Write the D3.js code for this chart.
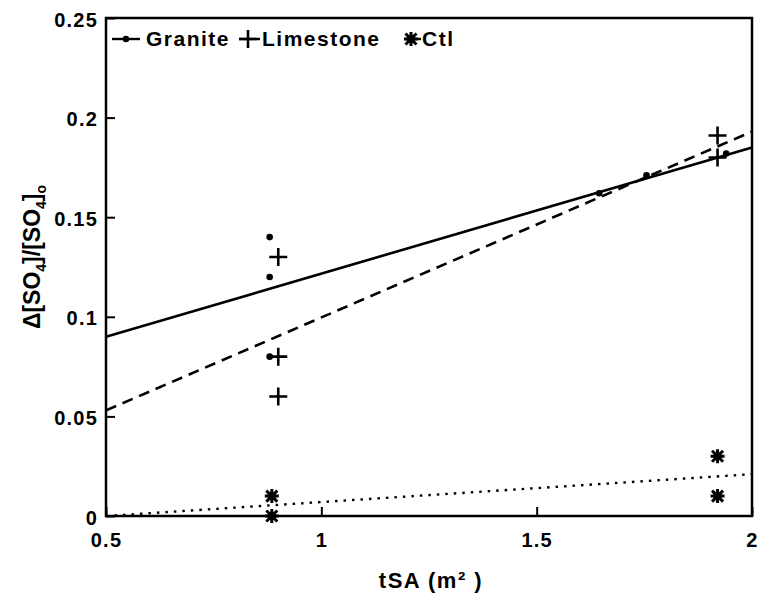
<!DOCTYPE html>
<html><head><meta charset="utf-8">
<script src="https://cdn.jsdelivr.net/npm/d3@7"></script>
<style>body{margin:0;background:#fff}svg{display:block}text{font-family:"Liberation Sans",Arial,sans-serif;fill:#000}</style>
</head><body>
<svg id="c" width="759" height="607"></svg>
<script>
const xTicks = [0.5, 1, 1.5, 2];
const xTickLabels = ["0.5", "1", "1.5", "2"];
const yTicks = [0, 0.05, 0.1, 0.15, 0.2, 0.25];
const yTickLabels = ["0", "0.05", "0.1", "0.15", "0.2", "0.25"];

const graniteX = [0.88, 0.88, 0.88, 1.645, 1.755, 1.94];
const graniteY = [0.14, 0.12, 0.08, 0.162, 0.171, 0.182];
const limestoneX = [0.9, 0.9, 0.9, 1.92, 1.92];
const limestoneY = [0.13, 0.08, 0.06, 0.191, 0.18];
const ctlX = [0.885, 0.885, 1.92, 1.92];
const ctlY = [0.01, 0.0, 0.03, 0.01];

const graniteFitX = [0.5, 2]; const graniteFitY = [0.09, 0.185];
const limestoneFitX = [0.5, 2]; const limestoneFitY = [0.053, 0.193];
const ctlFitX = [0.5, 2]; const ctlFitY = [0.0, 0.021];

const svg = d3.select("#c");
const L = 106, R = 752, T = 18, B = 516;
const x = d3.scaleLinear().domain([0.5, 2]).range([L, R]);
const y = d3.scaleLinear().domain([0, 0.25]).range([B, T]);

const line = d3.line().x(d => x(d[0])).y(d => y(d[1]));
function fit(xs, ys, dash, w) {
  svg.append("path").datum(xs.map((v, i) => [v, ys[i]])).attr("d", line)
    .attr("fill", "none").attr("stroke", "#000").attr("stroke-width", w)
    .attr("stroke-dasharray", dash);
}
fit(graniteFitX, graniteFitY, null, 2.6);
fit(limestoneFitX, limestoneFitY, "11,7", 2.6);
fit(ctlFitX, ctlFitY, "2.5,6", 2.4);

const yAxis = d3.axisLeft(y).tickValues(yTicks).tickFormat((d, i) => yTickLabels[i]).tickSize(-9).tickPadding(8);
const xAxis = d3.axisBottom(x).tickValues(xTicks).tickFormat((d, i) => xTickLabels[i]).tickSize(-9).tickPadding(18);
const gy = svg.append("g").attr("transform", `translate(${L},0)`).call(yAxis);
const gx = svg.append("g").attr("transform", `translate(0,${B})`).call(xAxis);
[gy, gx].forEach(g => {
  g.select(".domain").remove();
  g.selectAll("line").attr("stroke", "#000").attr("stroke-width", 2);
  g.selectAll("text").attr("font-size", 20).attr("font-weight", "bold").attr("letter-spacing", 1.2)
    .attr("fill", "#000").style("font-family", "Liberation Sans, Arial, sans-serif");
});
gy.selectAll("text").attr("dy", "0.4em");
gx.selectAll("text").attr("dy", "0.71em").attr("y", 17);
svg.append("rect").attr("x", L).attr("y", T).attr("width", R - L).attr("height", B - T)
  .attr("fill", "none").attr("stroke", "#000").attr("stroke-width", 2.5);

function dot(g, cx, cy) { g.append("circle").attr("cx", cx).attr("cy", cy).attr("r", 3.3).attr("fill", "#000"); }
function plus(g, cx, cy) {
  g.append("path").attr("d", `M${cx-9},${cy}H${cx+9}M${cx},${cy-9}V${cy+9}`).attr("stroke", "#000").attr("stroke-width", 2.6).attr("fill", "none");
}
function star(g, cx, cy) {
  const s = 7, d = 5.5;
  g.append("path").attr("d", `M${cx-s},${cy}H${cx+s}M${cx},${cy-s}V${cy+s}M${cx-d},${cy-d}L${cx+d},${cy+d}M${cx-d},${cy+d}L${cx+d},${cy-d}`)
    .attr("stroke", "#000").attr("stroke-width", 3).attr("fill", "none");
  g.append("circle").attr("cx", cx).attr("cy", cy).attr("r", 4).attr("fill", "#000");
}
const gm = svg.append("g");
graniteX.forEach((v, i) => dot(gm, x(v), y(graniteY[i])));
limestoneX.forEach((v, i) => plus(gm, x(v), y(limestoneY[i])));
ctlX.forEach((v, i) => star(gm, x(v), y(ctlY[i])));

const lg = svg.append("g");
const ly = 46;
const lfs = 21, lls = 1.5;
lg.append("line").attr("x1", 112).attr("x2", 140).attr("y1", ly - 7).attr("y2", ly - 7).attr("stroke", "#000").attr("stroke-width", 2.4);
dot(lg, 126, ly - 7);
lg.append("text").attr("x", 146).attr("y", ly).attr("font-size", lfs).attr("font-weight", "bold").attr("letter-spacing", lls).text("Granite");
plus(lg, 248, ly - 7);
lg.append("line").attr("x1", 239).attr("x2", 260).attr("y1", ly - 7).attr("y2", ly - 7).attr("stroke", "#000").attr("stroke-width", 2.4);
lg.append("text").attr("x", 262).attr("y", ly).attr("font-size", lfs).attr("font-weight", "bold").attr("letter-spacing", lls).text("Limestone");
star(lg, 411, ly - 7);
lg.append("line").attr("x1", 405).attr("x2", 421).attr("y1", ly - 7).attr("y2", ly - 7).attr("stroke", "#000").attr("stroke-width", 2.4);
lg.append("text").attr("x", 422).attr("y", ly).attr("font-size", lfs).attr("font-weight", "bold").attr("letter-spacing", lls).text("Ctl");

svg.append("text").attr("x", 431).attr("y", 588).attr("text-anchor", "middle").attr("font-size", 22).attr("font-weight", "bold")
  .attr("letter-spacing", 1.5).text("tSA (m² )");
const yt = svg.append("text").attr("transform", "translate(40,257) rotate(-90)").attr("text-anchor", "middle")
  .attr("font-size", 23).attr("font-weight", "bold");
yt.append("tspan").text("Δ[SO");
yt.append("tspan").attr("font-size", 14).attr("dy", 6).text("4");
yt.append("tspan").attr("dy", -6).text("]/[SO");
yt.append("tspan").attr("font-size", 14).attr("dy", 6).text("4");
yt.append("tspan").attr("dy", -6).text("]");
yt.append("tspan").attr("font-size", 14).attr("dy", 6).text("o");
</script>
</body></html>
